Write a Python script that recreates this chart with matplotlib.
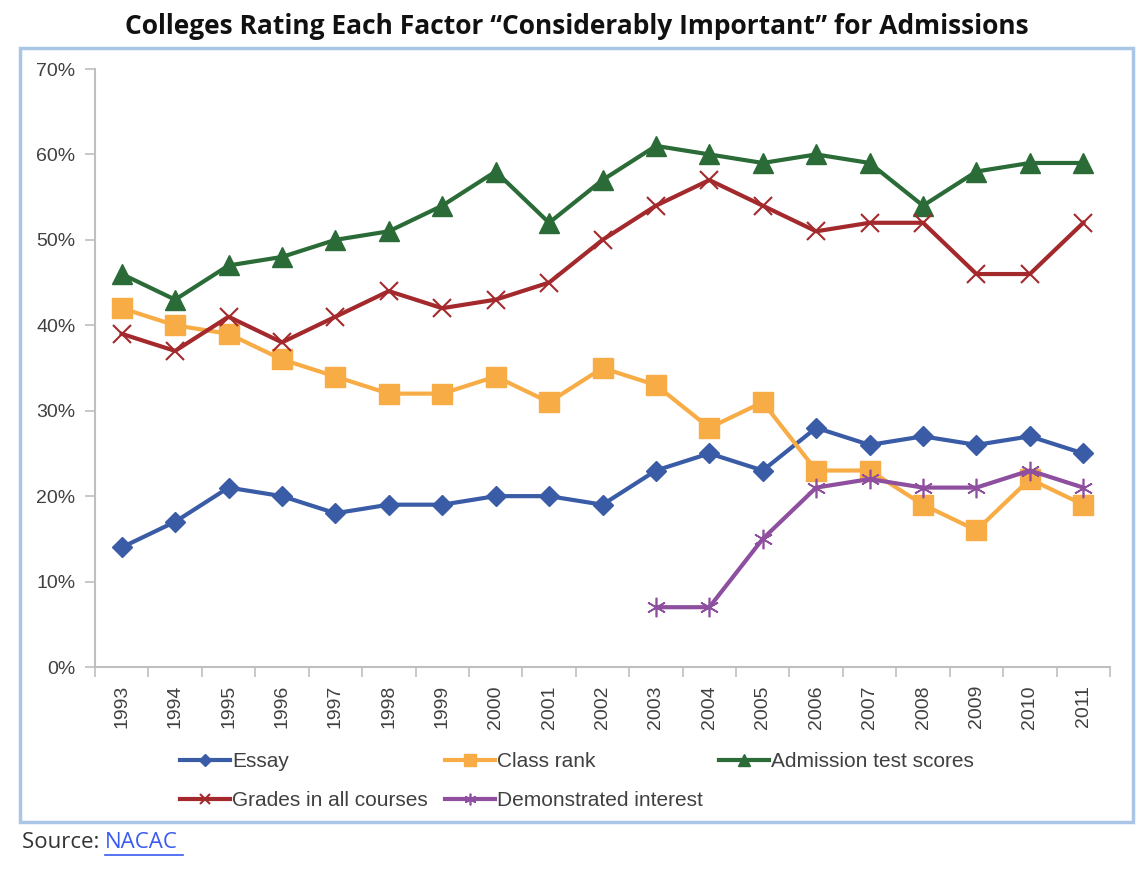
import matplotlib
matplotlib.use("Agg")
import matplotlib.pyplot as plt
from matplotlib.patches import Rectangle
from matplotlib.lines import Line2D

# data (percent)
years = list(range(1993, 2012))
essay = [14, 17, 21, 20, 18, 19, 19, 20, 20, 19, 23, 25, 23, 28, 26, 27, 26, 27, 25]
class_rank = [42, 40, 39, 36, 34, 32, 32, 34, 31, 35, 33, 28, 31, 23, 23, 19, 16, 22, 19]
test_scores = [46, 43, 47, 48, 50, 51, 54, 58, 52, 57, 61, 60, 59, 60, 59, 54, 58, 59, 59]
grades = [39, 37, 41, 38, 41, 44, 42, 43, 45, 50, 54, 57, 54, 51, 52, 52, 46, 46, 52]
interest_years = list(range(2003, 2012))
interest = [7, 7, 15, 21, 22, 21, 21, 23, 21]

plt.rcParams['font.family'] = ['Liberation Sans', 'DejaVu Sans']

W, H = 1148, 871
fig = plt.figure(figsize=(W / 100, H / 100), dpi=100)
ax = fig.add_axes([95 / W, 1 - 667 / H, (1110 - 95) / W, (667 - 69) / H])

# light blue frame around the chart
fig.patches.append(Rectangle((20 / W, 1 - 822 / H), (1133 - 20) / W, (822 - 48) / H,
                             transform=fig.transFigure, fill=False,
                             edgecolor='#A9C6E6', linewidth=2.5))

c_essay = '#3A5CA6'
c_rank = '#F7AC45'
c_test = '#2A6B37'
c_grades = '#A3292C'
c_int = '#8E4F9F'

l_essay, = ax.plot(years, essay, color=c_essay, lw=3, marker='D', ms=10, label='Essay')
l_rank, = ax.plot(years, class_rank, color=c_rank, lw=3, marker='s', ms=14, label='Class rank')
l_test, = ax.plot(years, test_scores, color=c_test, lw=3, marker='^', ms=14,
                  label='Admission test scores')
l_grades, = ax.plot(years, grades, color=c_grades, lw=3, marker='x', ms=13, mew=1.5,
                    label='Grades in all courses')
l_int, = ax.plot(interest_years, interest, color=c_int, lw=3, marker=(6, 2, 0), ms=14, mew=1.2,
                 label='Demonstrated interest')

ax.set_xlim(1992.5, 2011.5)
ax.set_ylim(0, 70)
ax.set_yticks(range(0, 71, 10))
ax.set_yticklabels([f'{v}%' for v in range(0, 71, 10)])
ax.set_xticks(years)
ax.set_xticklabels([str(y) for y in years], rotation=90)
ax.set_xticks([y - 0.5 for y in years] + [2011.5], minor=True)

for s in ['top', 'right']:
    ax.spines[s].set_visible(False)
for s in ['left', 'bottom']:
    ax.spines[s].set_color('#BFBFBF')
    ax.spines[s].set_linewidth(1.5)

ax.tick_params(axis='y', direction='out', length=7, width=1.2, color='#BFBFBF',
               labelsize=14, labelcolor='#404040', pad=7)
ax.tick_params(axis='x', which='major', length=0, labelsize=14, labelcolor='#404040', pad=13)
ax.tick_params(axis='x', which='minor', direction='out', length=7, width=1.2, color='#BFBFBF')

fig.text(577 / W, 1 - 27 / H, 'Colleges Rating Each Factor \u201cConsiderably Important\u201d for Admissions',
         ha='center', va='center', fontsize=19, fontweight='bold', family='Open Sans',
         color='#111111')

# legend: filled column by column, so order the entries to get the reference layout
fig.legend([l_essay, l_grades, l_rank, l_int, l_test],
           ['Essay', 'Grades in all courses', 'Class rank', 'Demonstrated interest',
            'Admission test scores'],
           loc='upper left', ncol=3, bbox_to_anchor=(180 / W, 1 - 752 / H),
           frameon=False, fontsize=15, handlelength=2.4, handletextpad=0.1,
           columnspacing=0.8, labelspacing=0.95, markerscale=0.6,
           labelcolor='#404040', borderpad=0, borderaxespad=0)

t = fig.text(22 / W, 1 - 842 / H, 'Source: ', ha='left', va='center', fontsize=16,
             family='Open Sans', color='#333333')
fig.canvas.draw()
bb = t.get_window_extent()
fig.text(bb.x1 / W, 1 - 842 / H, 'NACAC', ha='left', va='center', fontsize=16,
         family='Open Sans', color='#3B5BF0')
fig.add_artist(Line2D([bb.x1 / W, (bb.x1 + 78) / W], [1 - 855 / H, 1 - 855 / H],
                      transform=fig.transFigure, color='#3B5BF0', lw=1.2))

fig.savefig('out.png', dpi=100)
